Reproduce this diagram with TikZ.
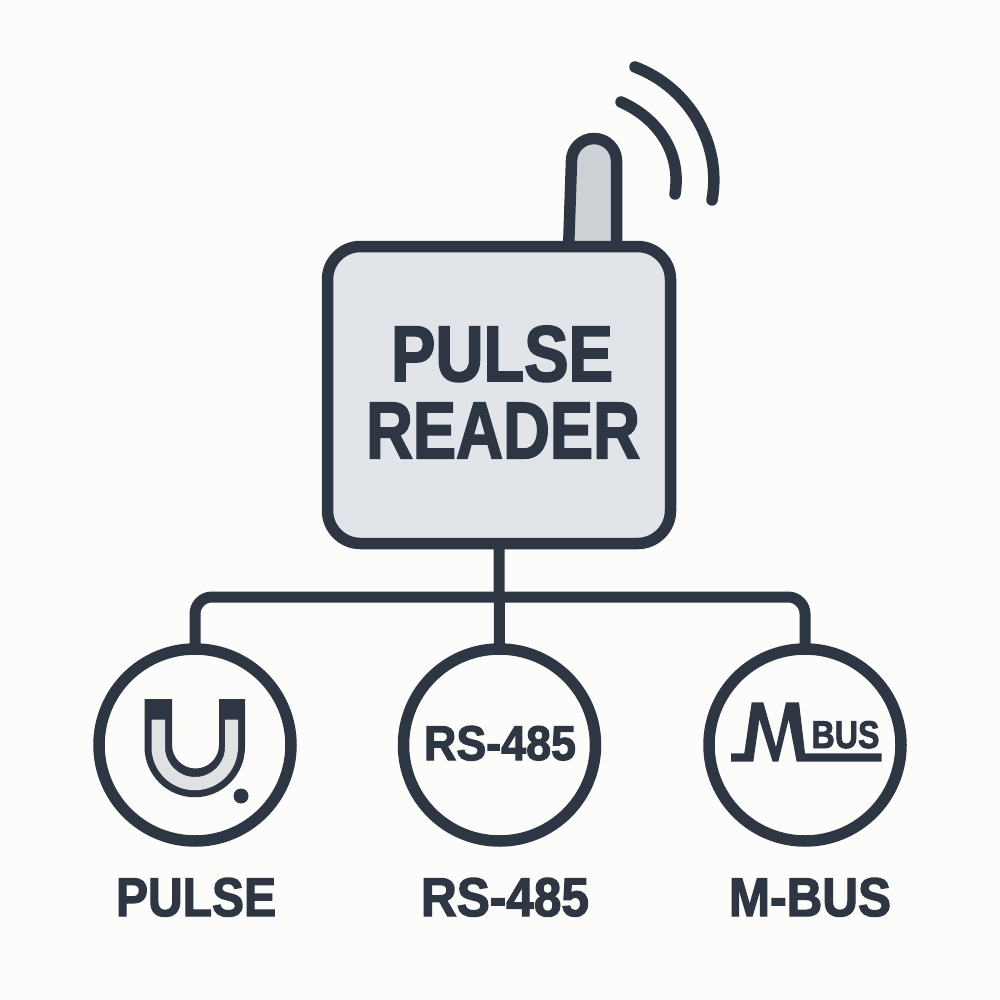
\documentclass[tikz,border=0pt]{standalone}
\usepackage{fontspec}
\setmainfont[BoldFeatures={FakeBold=2.5}]{Liberation Sans}
\usepackage{graphicx}
\definecolor{ink}{HTML}{2D3642}
\definecolor{boxfill}{HTML}{E1E4E9}
\definecolor{antfill}{HTML}{CDD0D5}
\definecolor{magfill}{HTML}{E0E1E2}
\definecolor{paper}{HTML}{FCFCFA}
\tikzset{
  devicebox/.style={draw=ink,fill=boxfill,line width=11.5pt,rounded corners=33pt,minimum width=343pt,minimum height=297pt,inner sep=0pt,outer sep=0pt},
  portcircle/.style={circle,draw=ink,fill=paper,line width=11.5pt,minimum size=192pt,inner sep=0pt,outer sep=0pt},
  wire/.style={draw=ink,line width=11pt},
  label/.style={inner sep=0pt,outer sep=0pt,anchor=base,text=ink,font=\bfseries},
  wave/.style={draw=ink,line width=11.5pt,line cap=round}
}
\newcommand{\fit}[3]{\resizebox{#1pt}{#2pt}{#3}}
\begin{document}
\begin{tikzpicture}[x=1pt,y=-1pt]
\useasboundingbox (0,0) rectangle (1000,1000);
\fill[paper] (0,0) rectangle (1000,1000);
% antenna
\draw[draw=ink,fill=antfill,line width=11.5pt,line join=round]
  (568.5,250) -- (571.5,161) arc[start angle=180,end angle=360,radius=22.5] -- (616.5,250);
% waves
\draw[wave] (635,67) .. controls (690,88) and (722,145) .. (712,200);
\draw[wave] (621,102) .. controls (655,117) and (682,150) .. (675,194);
% main box
\node[devicebox] (reader) at (499,395) {};
\node[label] (t1) at (502,381) {\fit{222}{55}{PULSE}};
\node[label] (t2) at (503,458) {\fit{274}{55}{READER}};
% ports
\node[portcircle] (pulse) at (195,745) {};
\node[portcircle] (rs) at (499.5,745) {};
\node[portcircle] (mbus) at (805,745) {};
% wires
\coordinate (jl) at (195,597);
\coordinate (jr) at (805,597);
\draw[wire] (reader.south) -- (rs.north);
\draw[wire,rounded corners=17pt] (pulse.north) -- (jl) -- (jr) -- (mbus.north);
% magnet
\fill[ink] (144.5,699) -- (172,699) -- (172,745) arc[start angle=180,end angle=0,radius=23.5] -- (219,699) -- (245,699) -- (245,747) arc[start angle=0,end angle=180,radius=50.25] -- cycle;
\fill[magfill] (151.5,719.5) -- (165,719.5) -- (165,747) arc[start angle=180,end angle=0,radius=30] -- (225,719.5) -- (238,719.5) -- (238,747) arc[start angle=0,end angle=180,radius=43.25] -- cycle;
\fill[ink] (241,796) circle[radius=7.5];
% inner RS-485
\node[label] (t3) at (500,760) {\fit{152}{34}{RS-485}};
% M pulse glyph
\begin{scope}[shift={(700,640)},x=.3333pt,y=-.3333pt]
\fill[ink] (93,340) -- (133,340) -- (155,187) -- (190,187) -- (228,322) -- (258,187) -- (297,187) -- (315,340) -- (545,340) -- (545,365) -- (290,365) -- (266,238) -- (235,365) -- (218,365) -- (178,238) -- (160,365) -- (93,365) -- cycle;
\end{scope}
\node[label] (t4) at (845.5,748) {\fit{68}{27}{BUS}};
% captions
\node[label] (t5) at (196,916) {\fit{160}{38}{PULSE}};
\node[label] (t6) at (505,916) {\fit{168}{38}{RS-485}};
\node[label] (t7) at (810,916) {\fit{162}{38}{M-BUS}};
\end{tikzpicture}
\end{document}
